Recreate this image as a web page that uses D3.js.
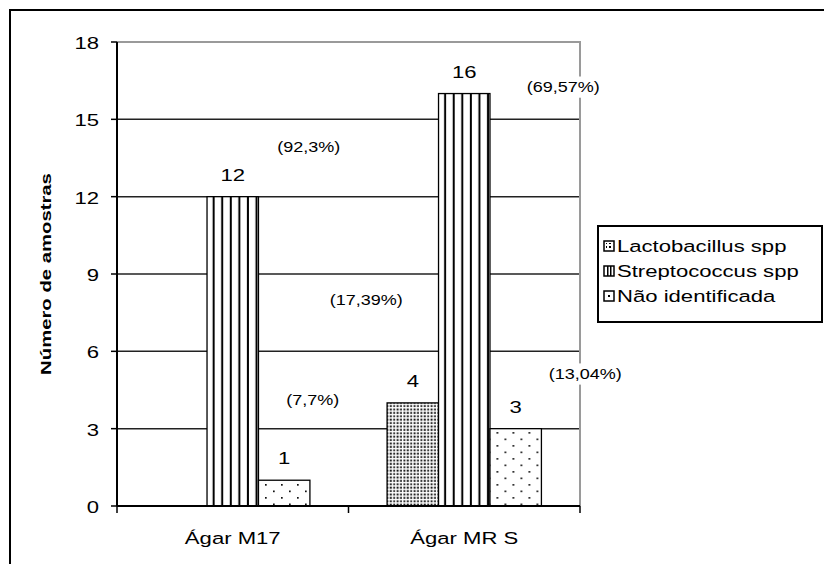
<!DOCTYPE html>
<html>
<head>
<meta charset="utf-8">
<script src="https://cdn.jsdelivr.net/npm/d3@7"></script>
<style>
  html, body { margin: 0; padding: 0; background: #fff; }
  svg { display: block; }
  text { font-family: "Liberation Sans", Arial, sans-serif; fill: #000; }
</style>
</head>
<body>
<svg id="chart" width="824" height="564"></svg>
<script>
// Amostras isoladas por meio de cultura
const categories = ["Ágar M17", "Ágar MR S"];
const seriesNames = ["Lactobacillus spp", "Streptococcus spp", "Não identificada"];
const lactobacillus = [0, 4];
const streptococcus = [12, 16];
const naoIdentificada = [1, 3];
const yTicks = [0, 3, 6, 9, 12, 15, 18];
const yTitle = "Número de amostras";

// Percentagens por série
const pctCategory = ["Ágar M17", "Ágar M17", "Ágar MR S", "Ágar MR S", "Ágar MR S"];
const pctText = ["(92,3%)", "(7,7%)", "(69,57%)", "(17,39%)", "(13,04%)"];

// Placement of the percentage boxes: horizontal offset from the group centre (px)
// and vertical level in axis units.
const pctDx = [76, 80, 99, -98, 121];
const pctLevel = [13.93, 4.11, 16.25, 7.99, 5.12];

const seriesValues = [lactobacillus, streptococcus, naoIdentificada];

const svg = d3.select("#chart");
const FONT = 17, SX = 1.3;

const plot = { left: 117, right: 580, top: 42, bottom: 506 };

const x = d3.scaleBand().domain(categories).range([plot.left, plot.right]);
const xs = d3.scaleBand().domain(seriesNames)
  .range([x.bandwidth() / 6, x.bandwidth() * 5 / 6]);
const y = d3.scaleLinear().domain([0, 18]).range([plot.bottom, plot.top]);

// Fill patterns
const defs = svg.append("defs");
const pLacto = defs.append("pattern").attr("id", "pat-lacto")
  .attr("patternUnits", "userSpaceOnUse").attr("width", 3.4).attr("height", 3.4);
pLacto.append("rect").attr("width", 3.4).attr("height", 3.4).attr("fill", "#fff");
pLacto.append("rect").attr("x", 0.5).attr("y", 0.5).attr("width", 1.9).attr("height", 1.9).attr("fill", "#111");

const pStrep = defs.append("pattern").attr("id", "pat-strep")
  .attr("patternUnits", "objectBoundingBox").attr("width", 1 / 6).attr("height", 1);
pStrep.append("rect").attr("width", 20).attr("height", 1000).attr("fill", "#fff");
pStrep.append("rect").attr("x", 5.6).attr("width", 2).attr("height", 1000).attr("fill", "#000");

const pNao = defs.append("pattern").attr("id", "pat-nao")
  .attr("patternUnits", "userSpaceOnUse").attr("width", 16).attr("height", 13);
pNao.append("rect").attr("width", 16).attr("height", 13).attr("fill", "#fff");
pNao.append("rect").attr("x", 4).attr("y", 3).attr("width", 1.7).attr("height", 1.7).attr("fill", "#111");
pNao.append("rect").attr("x", 12).attr("y", 9.5).attr("width", 1.7).attr("height", 1.7).attr("fill", "#111");

// Small legend swatch patterns
const sLacto = defs.append("pattern").attr("id", "sw-lacto")
  .attr("patternUnits", "userSpaceOnUse").attr("width", 4).attr("height", 4);
sLacto.append("rect").attr("width", 4).attr("height", 4).attr("fill", "#fff");
sLacto.append("rect").attr("x", 1).attr("y", 1).attr("width", 2).attr("height", 2).attr("fill", "#000");

const fills = ["url(#pat-lacto)", "url(#pat-strep)", "url(#pat-nao)"];

// Stretched text helper
function label(sel, txt, px, py, opts = {}) {
  const size = opts.size || FONT;
  const sx = opts.sx || SX;
  const t = sel.append("text")
    .attr("transform", `translate(${px},${py})${opts.rotate ? ` rotate(${opts.rotate})` : ""} scale(${sx},1)`)
    .attr("text-anchor", opts.anchor || "middle")
    .attr("dominant-baseline", opts.baseline || "central")
    .style("font-size", size + "px")
    .style("font-weight", opts.weight || "normal")
    .text(txt);
  return t;
}

// Outer chart frame
svg.append("rect").attr("x", 10).attr("y", 10).attr("width", 830).attr("height", 570)
  .attr("fill", "#fff").attr("stroke", "#000").attr("stroke-width", 2);

// Gridlines
svg.append("g").selectAll("line").data(yTicks.filter(d => d > 0 && d < 18)).join("line")
  .attr("x1", plot.left).attr("x2", plot.right)
  .attr("y1", d => y(d)).attr("y2", d => y(d))
  .attr("stroke", "#222").attr("stroke-width", 1.5);

// Plot area border (top and right)
svg.append("path")
  .attr("d", `M${plot.left},${y(18)}H${plot.right}V${plot.bottom}`)
  .attr("fill", "none").attr("stroke", "#9a9a9a").attr("stroke-width", 2);

// Bars
const groups = svg.append("g").selectAll("g").data(categories).join("g")
  .attr("transform", d => `translate(${x(d)},0)`);

seriesNames.forEach((s, si) => {
  const vals = seriesValues[si];
  groups.append("rect")
    .attr("x", xs(s))
    .attr("y", (c, ci) => y(vals[ci]))
    .attr("width", xs.bandwidth())
    .attr("height", (c, ci) => y(0) - y(vals[ci]))
    .attr("fill", fills[si])
    .attr("stroke", "#000").attr("stroke-width", 1.3)
    .style("display", (c, ci) => vals[ci] > 0 ? null : "none");
});

// Value labels above bars
seriesNames.forEach((s, si) => {
  const vals = seriesValues[si];
  categories.forEach((c, ci) => {
    if (vals[ci] > 0) {
      label(svg, vals[ci], x(c) + xs(s) + xs.bandwidth() / 2, y(vals[ci]) - 22);
    }
  });
});

// Y axis
const yAxis = svg.append("g").attr("transform", `translate(${plot.left},0)`);
yAxis.append("line").attr("y1", y(18)).attr("y2", y(0)).attr("stroke", "#000").attr("stroke-width", 2);
yAxis.selectAll("line.tick").data(yTicks).join("line").attr("class", "tick")
  .attr("x1", -6).attr("x2", 0).attr("y1", d => y(d)).attr("y2", d => y(d))
  .attr("stroke", "#000").attr("stroke-width", 1.5);
yTicks.forEach(t => label(yAxis, t, -18, y(t) + 1, { anchor: "end" }));

// X axis
const xAxis = svg.append("g");
xAxis.append("line").attr("x1", plot.left).attr("x2", plot.right)
  .attr("y1", plot.bottom).attr("y2", plot.bottom).attr("stroke", "#000").attr("stroke-width", 2);
const xTickPos = categories.map(c => x(c)).concat([plot.right]);
xAxis.selectAll("line.tick").data(xTickPos).join("line").attr("class", "tick")
  .attr("x1", d => d).attr("x2", d => d).attr("y1", plot.bottom).attr("y2", plot.bottom + 7)
  .attr("stroke", "#000").attr("stroke-width", 1.5);
categories.forEach(c => label(xAxis, c, x(c) + x.bandwidth() / 2, 538));

// Y axis title
label(svg, yTitle, 46, (plot.top + plot.bottom) / 2, { rotate: -90, weight: "bold", size: 14, sx: 1.45 });

// Percentage boxes (white background)
const PCT_SIZE = 15, PCT_SX = 1.2;
pctText.forEach((t, i) => {
  const cx = x(pctCategory[i]) + x.bandwidth() / 2 + pctDx[i];
  const cy = y(pctLevel[i]);
  const g = svg.append("g");
  const txt = label(g, t, cx, cy, { size: PCT_SIZE, sx: PCT_SX });
  const bb = txt.node().getBBox();
  const w = bb.width * PCT_SX + 6, h = bb.height + 4;
  g.insert("rect", "text").attr("x", cx - w / 2).attr("y", cy - h / 2)
    .attr("width", w).attr("height", h).attr("fill", "#fff");
});

// Legend
const lg = svg.append("g").attr("transform", "translate(598,226)");
lg.append("rect").attr("width", 224).attr("height", 96)
  .attr("fill", "#fff").attr("stroke", "#000").attr("stroke-width", 2);
const rowY = [20, 45, 70];
seriesNames.forEach((s, i) => {
  const r = lg.append("g").attr("transform", `translate(6,${rowY[i]})`);
  const sw = r.append("g").attr("transform", "translate(0,-5)");
  sw.append("rect").attr("width", 10).attr("height", 10).attr("fill", "#fff")
    .attr("stroke", "#000").attr("stroke-width", 1.5);
  if (i === 0) {
    sw.append("rect").attr("x", 2).attr("y", 2).attr("width", 6).attr("height", 6).attr("fill", "url(#sw-lacto)");
  } else if (i === 1) {
    sw.append("rect").attr("x", 3).attr("y", 0).attr("width", 1.5).attr("height", 10).attr("fill", "#000");
    sw.append("rect").attr("x", 6).attr("y", 0).attr("width", 1.5).attr("height", 10).attr("fill", "#000");
  } else {
    sw.append("rect").attr("x", 4).attr("y", 4).attr("width", 2).attr("height", 2).attr("fill", "#000");
  }
  label(r, s, 13, 0, { anchor: "start" });
});
</script>
</body>
</html>
